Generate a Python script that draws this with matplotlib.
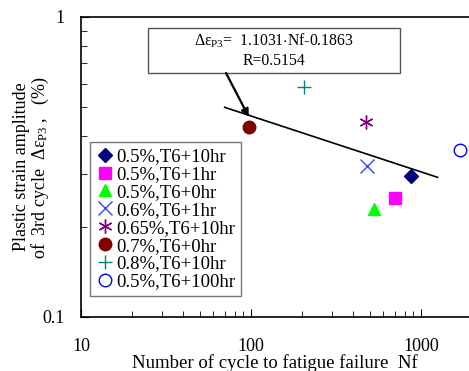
import numpy as np
import matplotlib
matplotlib.use("Agg")
import matplotlib.pyplot as plt
from matplotlib.patches import Rectangle

plt.rcParams['font.family'] = ['Liberation Serif', 'DejaVu Serif']
plt.rcParams['mathtext.fontset'] = 'custom'
plt.rcParams['mathtext.rm'] = 'Liberation Serif'
plt.rcParams['mathtext.it'] = 'Liberation Serif'

labels = ["0.5%,T6+10hr", "0.5%,T6+1hr", "0.5%,T6+0hr", "0.6%,T6+1hr",
          "0.65%,T6+10hr", "0.7%,T6+0hr", "0.8%,T6+10hr", "0.5%,T6+100hr"]
nf = [873, 703, 530, 481, 475, 97, 205, 1694]
eps = [0.295, 0.249, 0.229, 0.319, 0.447, 0.43, 0.584, 0.36]
markers = ['D', 's', '^', 'x', (6, 2, 0), 'o', '+', 'o']
colors = ['#000080', '#FF00FF', '#00FF00', '#4040FF', '#800080', '#800000', '#008080', '#0000FF']
filled = [True, True, True, True, True, True, True, False]
sizes = [7, 9, 9, 10, 10, 9, 10, 9]

fit_a = 1.1031
fit_b = -0.1863
fit_range = [70, 1250]

W, H = 469, 371
fig = plt.figure(figsize=(4.69, 3.71), dpi=100)
ax_w = 1 - 81 / W + 0.01
ax = fig.add_axes([81 / W, 0.1456, ax_w, 0.8086])
axpx = ax_w * W

for x, y, m, c, f, s, lab in zip(nf, eps, markers, colors, filled, sizes, labels):
    if f:
        ax.plot([x], [y], linestyle='none', marker=m, color=c, markersize=s,
                markeredgewidth=1.0, label=lab)
    else:
        ax.plot([x], [y], linestyle='none', marker=m, markerfacecolor='none',
                markeredgecolor=c, markersize=s, markeredgewidth=1.0, label=lab)

xf = np.logspace(np.log10(fit_range[0]), np.log10(fit_range[1]), 50)
ax.plot(xf, fit_a * xf ** fit_b, color='black', linewidth=1.2)

ax.set_xscale('log')
ax.set_yscale('log')
ax.set_xlim(10, 10 ** (1 + axpx / 170))
ax.set_ylim(0.1, 1)

ax.set_xticks([10, 100, 1000])
ax.set_xticklabels(['10', '100', '1000'])
ax.set_yticks([0.1, 1])
ax.set_yticklabels(['0.1', '1'])
ax.tick_params(which='both', direction='in', labelsize=13)
ax.tick_params(axis='x', which='major', pad=15, length=6)
ax.tick_params(axis='y', which='major', pad=12, length=6)
ax.tick_params(which='minor', length=4)
ax.yaxis.set_minor_formatter(matplotlib.ticker.NullFormatter())
ax.xaxis.set_minor_formatter(matplotlib.ticker.NullFormatter())
ax.spines['right'].set_visible(False)
for sp in ['left', 'bottom', 'top']:
    ax.spines[sp].set_linewidth(1.2)

fig.text(275 / W, 1 - 354 / H, 'Number of cycle to fatigue failure  Nf',
         fontsize=13.5, ha='center', va='top')
fig.text(32 / W, 1 - 167 / H,
         'Plastic strain amplitude\nof  3rd cycle  $\\Delta\\varepsilon_{\\rm P3}$ ,   (%)',
         fontsize=13, rotation=90, ha='center', va='center',
         multialignment='center', linespacing=1.05)

leg = ax.legend(loc='lower left', bbox_to_anchor=(0.023, 0.07), fontsize=13.5,
                frameon=True, fancybox=False, edgecolor='#555555',
                handletextpad=0.1, handlelength=1.0, borderpad=0.3,
                labelspacing=0.04, borderaxespad=0)
leg.get_frame().set_linewidth(1.0)

# annotation box
bx0, bx1 = (148 - 81) / axpx, (400 - 81) / axpx
by0, by1 = (317 - 73) / 300, (317 - 28) / 300
ax.add_patch(Rectangle((bx0, by0), bx1 - bx0, by1 - by0, transform=ax.transAxes,
                       fc='white', ec='#555555', lw=1.0, zorder=5))
ax.text((bx0 + bx1) / 2, (by0 + by1) / 2,
        '$\\Delta\\varepsilon_{\\rm P3}$=  1.1031$\\cdot$Nf-0.1863\nR=0.5154',
        transform=ax.transAxes, ha='center', va='center', fontsize=11.3,
        linespacing=1.3, zorder=6)
ax.annotate('', xy=(97, 0.465), xytext=((226 - 81) / axpx, by0),
            textcoords='axes fraction',
            arrowprops=dict(arrowstyle='-|>', color='black', lw=1.6, mutation_scale=11,
                            shrinkA=0, shrinkB=0), zorder=6)

fig.savefig('out.png', dpi=100)
